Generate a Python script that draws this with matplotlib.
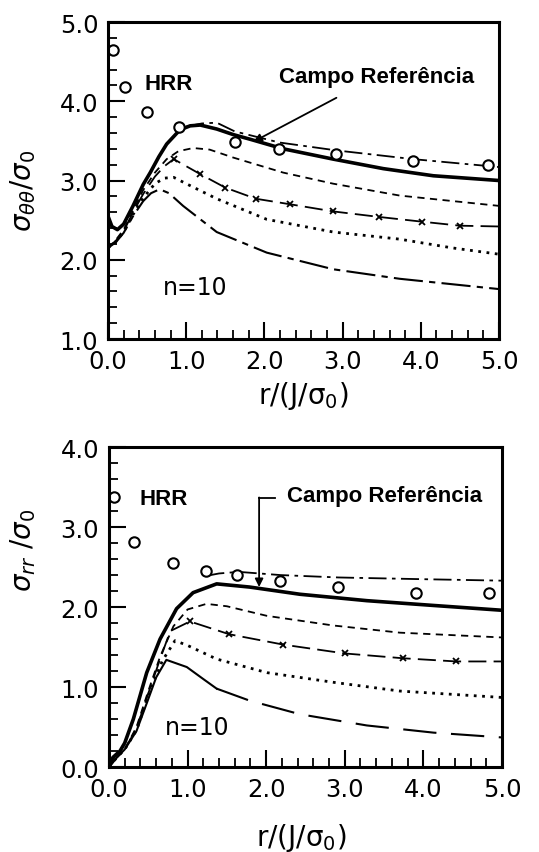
import numpy as np
import matplotlib.pyplot as plt
from matplotlib.ticker import MultipleLocator

# ---- top panel: sigma_theta_theta / sigma_0 ----
hrr_top_x = [0.07, 0.22, 0.50, 0.91, 1.62, 2.19, 2.92, 3.90, 4.86]
hrr_top_y = [4.65, 4.18, 3.86, 3.67, 3.48, 3.40, 3.33, 3.25, 3.19]

ref_top_x = [0.0, 0.05, 0.12, 0.2, 0.32, 0.45, 0.54, 0.65, 0.75, 0.92, 1.05, 1.18, 1.39, 1.6, 1.82, 2.24, 2.88, 3.52, 4.16, 5.0]
ref_top_y = [2.55, 2.42, 2.38, 2.45, 2.68, 2.95, 3.10, 3.30, 3.46, 3.64, 3.69, 3.70, 3.65, 3.58, 3.52, 3.40, 3.27, 3.15, 3.06, 3.00]

dd_top_x = [1.0, 1.2, 1.39, 1.62, 2.19, 2.92, 3.90, 5.0]
dd_top_y = [3.68, 3.72, 3.73, 3.62, 3.48, 3.38, 3.27, 3.17]

dash_top_x = [0.0, 0.1, 0.2, 0.32, 0.45, 0.6, 0.75, 0.9, 1.09, 1.3, 1.6, 2.24, 2.88, 3.73, 5.0]
dash_top_y = [2.15, 2.25, 2.38, 2.62, 2.88, 3.10, 3.27, 3.37, 3.41, 3.39, 3.29, 3.10, 2.96, 2.81, 2.68]

xm_top_x = [0.0, 0.1, 0.2, 0.32, 0.45, 0.6, 0.72, 0.84, 1.18, 1.50, 1.89, 2.33, 2.88, 3.47, 4.02, 4.50, 5.0]
xm_top_y = [2.15, 2.24, 2.36, 2.60, 2.83, 3.05, 3.18, 3.27, 3.08, 2.91, 2.77, 2.70, 2.61, 2.54, 2.48, 2.43, 2.42]

dot_top_x = [0.0, 0.1, 0.2, 0.32, 0.45, 0.6, 0.72, 0.84, 1.0, 1.39, 2.03, 2.88, 3.73, 4.4, 5.0]
dot_top_y = [2.15, 2.23, 2.35, 2.57, 2.78, 2.96, 3.03, 3.04, 2.96, 2.77, 2.51, 2.35, 2.26, 2.15, 2.07]

n10_top_x = [0.0, 0.1, 0.2, 0.32, 0.45, 0.55, 0.66, 0.78, 0.96, 1.39, 2.03, 2.88, 3.73, 5.0]
n10_top_y = [2.15, 2.22, 2.34, 2.55, 2.74, 2.84, 2.89, 2.84, 2.68, 2.35, 2.09, 1.88, 1.76, 1.63]

# ---- bottom panel: sigma_rr / sigma_0 ----
hrr_bot_x = [0.07, 0.32, 0.82, 1.24, 1.63, 2.18, 2.92, 3.91, 4.84]
hrr_bot_y = [3.38, 2.81, 2.55, 2.45, 2.40, 2.32, 2.25, 2.18, 2.18]

ref_bot_x = [0.0, 0.05, 0.14, 0.2, 0.31, 0.48, 0.65, 0.86, 1.07, 1.37, 1.79, 2.43, 3.28, 4.13, 5.0]
ref_bot_y = [0.0, 0.12, 0.2, 0.3, 0.60, 1.18, 1.60, 1.98, 2.18, 2.29, 2.25, 2.16, 2.08, 2.02, 1.96]

dd_bot_x = [1.24, 1.4, 1.65, 2.18, 2.92, 3.91, 5.0]
dd_bot_y = [2.39, 2.42, 2.44, 2.40, 2.37, 2.35, 2.33]

dash_bot_x = [0.0, 0.1, 0.2, 0.35, 0.5, 0.65, 0.82, 1.0, 1.24, 1.5, 2.01, 2.85, 3.70, 5.0]
dash_bot_y = [0.0, 0.12, 0.22, 0.5, 0.95, 1.38, 1.76, 1.97, 2.04, 2.01, 1.89, 1.77, 1.68, 1.62]

xm_bot_x = [0.0, 0.1, 0.2, 0.35, 0.5, 0.65, 0.78, 1.03, 1.53, 2.22, 3.0, 3.74, 4.42, 5.0]
xm_bot_y = [0.0, 0.12, 0.22, 0.48, 0.92, 1.35, 1.70, 1.82, 1.66, 1.53, 1.42, 1.36, 1.32, 1.32]

dot_bot_x = [0.0, 0.1, 0.2, 0.35, 0.52, 0.68, 0.84, 1.0, 1.37, 2.01, 2.85, 3.70, 5.0]
dot_bot_y = [0.0, 0.12, 0.22, 0.46, 0.95, 1.33, 1.58, 1.52, 1.35, 1.18, 1.06, 0.95, 0.87]

n10_bot_x = [0.0, 0.1, 0.2, 0.35, 0.5, 0.6, 0.73, 0.99, 1.2, 1.37, 1.79, 2.43, 3.28, 4.13, 5.0]
n10_bot_y = [0.0, 0.12, 0.22, 0.45, 0.85, 1.12, 1.34, 1.25, 1.1, 0.98, 0.83, 0.66, 0.52, 0.43, 0.37]

xticks = [0, 1, 2, 3, 4, 5]
ann_font = ['Liberation Sans', 'DejaVu Sans']


def style_axes(ax, ymin, ymax):
    ax.set_xlim(0, 5)
    ax.set_ylim(ymin, ymax)
    ax.set_xticks(xticks)
    ax.set_yticks(np.arange(ymin, ymax + 0.01, 1.0))
    ax.xaxis.set_minor_locator(MultipleLocator(0.2))
    ax.yaxis.set_minor_locator(MultipleLocator(0.2))
    ax.xaxis.set_major_formatter(lambda v, p: f'{v:.1f}')
    ax.yaxis.set_major_formatter(lambda v, p: f'{v:.1f}')
    ax.tick_params(which='major', direction='in', length=12, width=1.5,
                   labelsize=17.5, pad=7, top=False, right=False)
    ax.tick_params(which='minor', direction='in', length=6.5, width=1.3,
                   top=False, right=False)
    for s in ax.spines.values():
        s.set_linewidth(2.2)


fig = plt.figure(figsize=(5.39, 8.53), dpi=100)
ax1 = fig.add_axes([0.2004, 0.6014, 0.7254, 0.3716])
ax2 = fig.add_axes([0.2022, 0.0996, 0.7291, 0.3751])

# top
ax1.plot(ref_top_x, ref_top_y, color='black', lw=2.6)
ax1.plot(dd_top_x, dd_top_y, color='black', lw=1.3, dashes=(10, 3, 2, 3))
ax1.plot(dash_top_x, dash_top_y, color='black', lw=1.3, dashes=(4, 3))
ax1.plot(xm_top_x, xm_top_y, color='black', lw=1.3, dashes=(10, 4),
         marker='x', ms=5, mew=1.3, markevery=list(range(7, 16)))
ax1.plot(dot_top_x, dot_top_y, color='black', lw=2.0, linestyle=(0, (1, 2)))
ax1.plot(n10_top_x, n10_top_y, color='black', lw=1.5, dashes=(14, 3, 3, 3))
ax1.plot(hrr_top_x, hrr_top_y, 'o', mfc='white', mec='black', ms=7.5, mew=1.5)
style_axes(ax1, 1.0, 5.0)
ax1.set_xlabel(r'$\mathregular{r/(J/\sigma_0)}$', fontsize=20)
ax1.set_ylabel(r'$\sigma_{\theta\theta}/\sigma_0$', fontsize=20)
ax1.xaxis.set_label_coords(0.5, -0.126)
ax1.yaxis.set_label_coords(-0.18, 0.47)
ax1.text(0.47, 4.22, 'HRR', fontsize=16, fontweight='bold', family=ann_font, va='center')
ax1.text(0.70, 1.65, 'n=10', fontsize=17, va='center')
ax1.annotate('Campo Referência', xy=(1.86, 3.49), xytext=(3.43, 4.31),
             fontsize=16, fontweight='bold', family=ann_font, ha='center', va='center',
             arrowprops=dict(arrowstyle='-|>', color='black', lw=1.3,
                             shrinkA=12, shrinkB=0, mutation_scale=12))

# bottom
ax2.plot(ref_bot_x, ref_bot_y, color='black', lw=2.6)
ax2.plot(dd_bot_x, dd_bot_y, color='black', lw=1.3, dashes=(10, 3, 2, 3))
ax2.plot(dash_bot_x, dash_bot_y, color='black', lw=1.3, dashes=(4, 3))
ax2.plot(xm_bot_x, xm_bot_y, color='black', lw=1.3, dashes=(10, 4),
         marker='x', ms=5, mew=1.3, markevery=list(range(7, 13)))
ax2.plot(dot_bot_x, dot_bot_y, color='black', lw=2.0, linestyle=(0, (1, 2)))
ax2.plot(n10_bot_x[:10], n10_bot_y[:10], color='black', lw=1.5)
ax2.plot(n10_bot_x[9:], n10_bot_y[9:], color='black', lw=1.5, dashes=(16, 7))
ax2.plot(hrr_bot_x, hrr_bot_y, 'o', mfc='white', mec='black', ms=7.5, mew=1.5)
style_axes(ax2, 0.0, 4.0)
ax2.set_xlabel(r'$\mathregular{r/(J/\sigma_0)}$', fontsize=20)
ax2.set_ylabel(r'$\sigma_{rr}\ /\sigma_0$', fontsize=20)
ax2.xaxis.set_label_coords(0.49, -0.169)
ax2.yaxis.set_label_coords(-0.18, 0.68)
ax2.text(0.39, 3.36, 'HRR', fontsize=16, fontweight='bold', family=ann_font, va='center')
ax2.text(0.71, 0.50, 'n=10', fontsize=17, va='center')
ax2.text(2.26, 3.39, 'Campo Referência', fontsize=16, fontweight='bold',
         family=ann_font, ha='left', va='center')
ax2.plot([1.91, 2.11], [3.36, 3.36], color='black', lw=1.3)
ax2.annotate('', xy=(1.91, 2.25), xytext=(1.91, 3.37),
             arrowprops=dict(arrowstyle='-|>', color='black', lw=1.3,
                             shrinkA=0, shrinkB=0, mutation_scale=12))

fig.savefig('out.png', dpi=100)
